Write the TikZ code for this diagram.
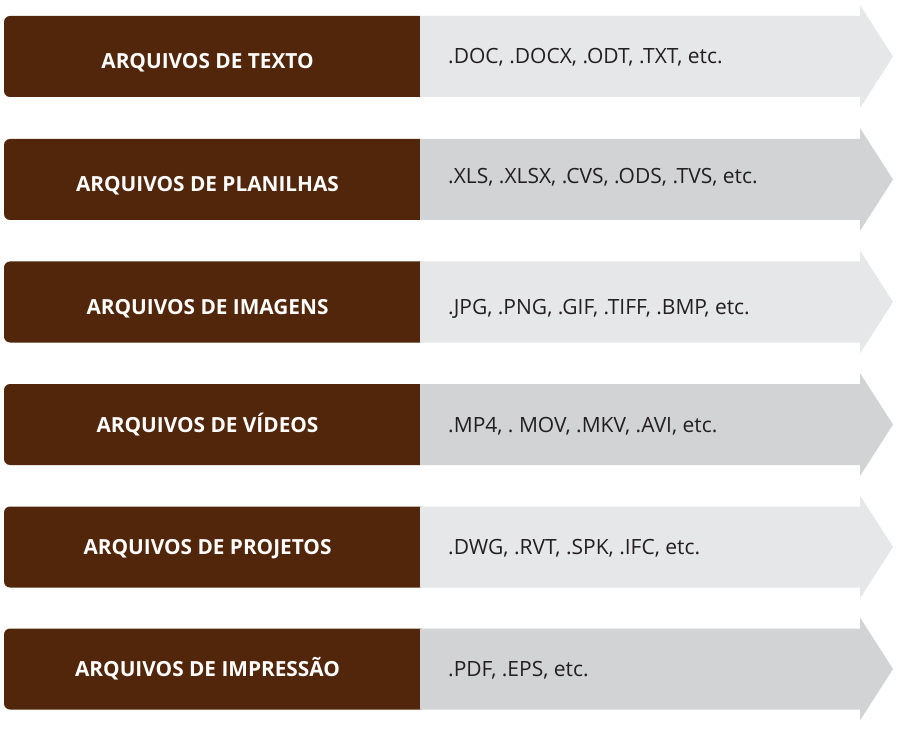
\documentclass[tikz,border=0pt]{standalone}
\usepackage{fontspec}
\setmainfont{Open Sans}
\usepackage{tikz}
\frenchspacing
\definecolor{darkbrown}{HTML}{52260A}
\definecolor{lightgrey}{HTML}{E6E7E8}
\definecolor{darkgrey}{HTML}{D1D3D4}
\definecolor{inktext}{HTML}{231F20}
\tikzstyle{typebox}=[rectangle,rounded corners=6pt,fill=darkbrown,text=white,font=\fontsize{20.8}{24}\selectfont\bfseries,minimum width=422pt,minimum height=81pt,inner sep=0pt,text height=15pt,text depth=0pt]
\tikzstyle{typelow}=[typebox,text height=24pt]
\tikzstyle{extlabel}=[anchor=west,text=inktext,font=\fontsize{21}{24}\selectfont,inner sep=0pt,text height=15pt,text depth=0pt]
\tikzstyle{bandlight}=[fill=lightgrey]
\tikzstyle{banddark}=[fill=darkgrey]

\begin{document}
\begin{tikzpicture}[x=1pt,y=1pt]
      \useasboundingbox (0,0) rectangle (900,-730);
      \begin{scope}[yshift=-16pt]
        \node[typelow] (t1) at (215,-40.5) {\hspace*{-15pt}ARQUIVOS DE TEXTO};
        \fill[bandlight] (420,0) -- (860,0) -- (860,11) -- (893,-40.5) -- (860,-92) -- (860,-81) -- (420,-81) -- cycle;
        \node[extlabel] (e1) at (448,-40) {.DOC, .DOCX, .ODT, .TXT, etc.};
      \end{scope}
      \begin{scope}[yshift=-139pt]
        \node[typelow] (t2) at (215,-40.5) {\hspace*{-15pt}ARQUIVOS DE PLANILHAS};
        \fill[banddark] (420,0) -- (860,0) -- (860,11) -- (893,-40.5) -- (860,-92) -- (860,-81) -- (420,-81) -- cycle;
        \node[extlabel] (e2) at (448,-37.5) {.XLS, .XLSX, .CVS, .ODS, .TVS, etc.};
      \end{scope}
      \begin{scope}[yshift=-261.5pt]
        \node[typelow] (t3) at (215,-40.5) {\hspace*{-15pt}ARQUIVOS DE IMAGENS};
        \fill[bandlight] (420,0) -- (860,0) -- (860,11) -- (893,-40.5) -- (860,-92) -- (860,-81) -- (420,-81) -- cycle;
        \node[extlabel] (e3) at (448,-45) {.JPG, .PNG, .GIF, .TIFF, .BMP, etc.};
      \end{scope}
      \begin{scope}[yshift=-384pt]
        \node[typebox] (t4) at (215,-40.5) {\hspace*{-15pt}ARQUIVOS DE VÍDEOS};
        \fill[banddark] (420,0) -- (860,0) -- (860,11) -- (893,-40.5) -- (860,-92) -- (860,-81) -- (420,-81) -- cycle;
        \node[extlabel] (e4) at (448,-40.5) {.MP4, . MOV, .MKV, .AVI, etc.};
      \end{scope}
      \begin{scope}[yshift=-506.5pt]
        \node[typebox] (t5) at (215,-40.5) {\hspace*{-15pt}ARQUIVOS DE PROJETOS};
        \fill[bandlight] (420,0) -- (860,0) -- (860,11) -- (893,-40.5) -- (860,-92) -- (860,-81) -- (420,-81) -- cycle;
        \node[extlabel] (e5) at (448,-40.5) {.DWG, .RVT, .SPK, .IFC, etc.};
      \end{scope}
      \begin{scope}[yshift=-628.5pt]
        \node[typebox] (t6) at (215,-40.5) {\hspace*{-15pt}ARQUIVOS DE IMPRESSÃO};
        \fill[banddark] (420,0) -- (860,0) -- (860,11) -- (893,-40.5) -- (860,-92) -- (860,-81) -- (420,-81) -- cycle;
        \node[extlabel] (e6) at (448,-40.5) {.PDF, .EPS, etc.};
      \end{scope}
    \end{tikzpicture}
\end{document}
